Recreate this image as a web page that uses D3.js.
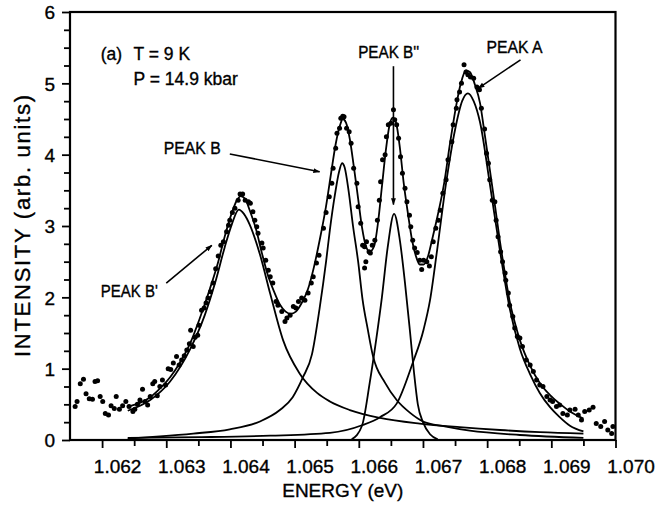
<!DOCTYPE html>
<html>
<head>
<meta charset="utf-8">
<script src="https://cdn.jsdelivr.net/npm/d3@7"></script>
<style>
  html, body { margin: 0; padding: 0; background: #fff; }
  #chart svg { display: block; }
  text { font-family: "Liberation Sans", Arial, sans-serif; fill: #000; stroke: #000; stroke-width: 0.35px; }
</style>
</head>
<body>
<div id="chart"></div>
<script>
// tick labels
const xTicks = [1.062, 1.063, 1.064, 1.065, 1.066, 1.067, 1.068, 1.069, 1.070];
const xMinor = [1.0625, 1.0635, 1.0645, 1.0655, 1.0665, 1.0675, 1.0685, 1.0695];
const yTicks = [0, 1, 2, 3, 4, 5, 6];
const yMinor = [0.25, 0.5, 0.75, 1.25, 1.5, 1.75, 2.25, 2.5, 2.75, 3.25, 3.5, 3.75,
                4.25, 4.5, 4.75, 5.25, 5.5, 5.75];

// measured points [energy eV, intensity]
const measured = [
  [1.06158, 0.47], [1.06161, 0.54], [1.06166, 0.79], [1.06171, 0.85], [1.06175, 0.65],
  [1.06180, 0.58], [1.06185, 0.57], [1.06189, 0.82], [1.06193, 0.83], [1.06197, 0.61],
  [1.06201, 0.54], [1.06205, 0.37], [1.06210, 0.35], [1.06214, 0.48], [1.06219, 0.44],
  [1.06222, 0.61], [1.06227, 0.43], [1.06232, 0.48], [1.06237, 0.54], [1.06242, 0.47],
  [1.06248, 0.40], [1.06251, 0.43], [1.06255, 0.50], [1.06259, 0.56], [1.06263, 0.71],
  [1.06267, 0.54], [1.06271, 0.49], [1.06275, 0.61], [1.06279, 0.79], [1.06282, 0.82],
  [1.06286, 0.62], [1.06290, 0.75], [1.06294, 0.84], [1.06299, 0.77], [1.06303, 1.00],
  [1.06307, 0.99], [1.06311, 1.08], [1.06316, 1.17], [1.06320, 1.05], [1.06324, 1.12],
  [1.06328, 1.18], [1.06332, 1.26], [1.06336, 1.35], [1.06338, 1.54], [1.06342, 1.31],
  [1.06345, 1.44], [1.06349, 1.47], [1.06351, 1.61], [1.06355, 1.82], [1.06359, 1.85],
  [1.06362, 1.92], [1.06365, 1.99], [1.06369, 2.08], [1.06373, 2.20], [1.06377, 2.40],
  [1.06381, 2.58], [1.06385, 2.73], [1.06389, 2.78], [1.06394, 2.92], [1.06397, 3.01],
  [1.06399, 3.08], [1.06403, 3.19], [1.06407, 3.25], [1.06412, 3.36], [1.06415, 3.45],
  [1.06419, 3.45], [1.06423, 3.36], [1.06428, 3.34], [1.06431, 3.32], [1.06435, 3.20],
  [1.06438, 3.08], [1.06441, 2.99], [1.06443, 2.90], [1.06449, 2.76], [1.06451, 2.69],
  [1.06455, 2.52], [1.06459, 2.38], [1.06462, 2.29], [1.06466, 2.20], [1.06471, 1.94],
  [1.06474, 1.89], [1.06480, 1.80], [1.06485, 1.66], [1.06488, 1.71], [1.06493, 1.75],
  [1.06498, 1.87], [1.06502, 1.85], [1.06506, 1.94], [1.06511, 1.99], [1.06516, 1.96],
  [1.06521, 2.06], [1.06526, 2.20], [1.06529, 2.29], [1.06534, 2.48], [1.06538, 2.59],
  [1.06545, 2.97], [1.06549, 3.19], [1.06554, 3.41], [1.06558, 3.60], [1.06560, 3.81],
  [1.06564, 4.09], [1.06566, 4.30], [1.06570, 4.37], [1.06572, 4.51], [1.06575, 4.54],
  [1.06577, 4.53], [1.06581, 4.37], [1.06585, 4.32], [1.06588, 4.16], [1.06592, 3.81],
  [1.06597, 3.60], [1.06599, 3.27], [1.06603, 3.04], [1.06606, 2.73], [1.06609, 2.71],
  [1.06612, 2.78], [1.06616, 2.64], [1.06618, 2.62], [1.06621, 2.73], [1.06611, 2.50],
  [1.06609, 2.41], [1.06625, 2.80], [1.06629, 3.08], [1.06632, 3.36], [1.06634, 3.62],
  [1.06637, 3.93], [1.06641, 4.00], [1.06643, 4.25], [1.06646, 4.42], [1.06650, 4.44],
  [1.06654, 4.63], [1.06656, 4.49], [1.06659, 4.42], [1.06662, 4.23], [1.06665, 3.97],
  [1.06668, 3.74], [1.06672, 3.53], [1.06675, 3.34], [1.06679, 3.15], [1.06681, 2.99],
  [1.06684, 2.80], [1.06687, 2.69], [1.06691, 2.63], [1.06695, 2.52], [1.06698, 2.39],
  [1.06701, 2.52], [1.06706, 2.50], [1.06710, 2.44], [1.06713, 2.57], [1.06716, 2.78],
  [1.06720, 2.97], [1.06724, 3.08], [1.06727, 3.22], [1.06731, 3.46], [1.06736, 3.65],
  [1.06739, 3.93], [1.06745, 4.18], [1.06747, 4.42], [1.06752, 4.65], [1.06753, 4.77],
  [1.06757, 4.88], [1.06760, 5.00], [1.06764, 5.26], [1.06767, 5.16], [1.06770, 5.12],
  [1.06774, 5.09], [1.06779, 5.07], [1.06784, 4.95], [1.06788, 4.91], [1.06791, 4.65],
  [1.06796, 4.36], [1.06799, 4.02], [1.06802, 3.88], [1.06804, 3.65], [1.06808, 3.36],
  [1.06812, 3.34], [1.06814, 3.08], [1.06817, 2.85], [1.06821, 2.64], [1.06824, 2.50],
  [1.06828, 2.34], [1.06829, 2.24], [1.06833, 2.06], [1.06835, 1.89], [1.06840, 1.73],
  [1.06843, 1.57], [1.06847, 1.45], [1.06851, 1.43], [1.06855, 1.31], [1.06861, 1.12],
  [1.06867, 1.05], [1.06872, 0.96], [1.06877, 0.84], [1.06882, 0.77], [1.06887, 0.75],
  [1.06893, 0.61], [1.06898, 0.56], [1.06902, 0.54], [1.06908, 0.47], [1.06913, 0.49],
  [1.06918, 0.37], [1.06925, 0.35], [1.06929, 0.42], [1.06937, 0.43], [1.06942, 0.35],
  [1.06947, 0.28], [1.06952, 0.40], [1.06959, 0.42], [1.06965, 0.46], [1.06970, 0.23],
  [1.06977, 0.19], [1.06983, 0.26], [1.06988, 0.14], [1.06994, 0.09], [1.06996, 0.19]
];

// fitted sum
const fitTotal = [
  [1.06240, 0.47], [1.06259, 0.52], [1.06275, 0.60], [1.06290, 0.72], [1.06306, 0.88],
  [1.06321, 1.08], [1.06337, 1.35], [1.06352, 1.70], [1.06368, 2.12], [1.06381, 2.50],
  [1.06391, 2.85], [1.06402, 3.18], [1.06410, 3.36], [1.06416, 3.42], [1.06423, 3.38],
  [1.06430, 3.22], [1.06440, 2.95], [1.06449, 2.62], [1.06458, 2.32], [1.06468, 2.08],
  [1.06477, 1.90], [1.06486, 1.80], [1.06494, 1.77], [1.06502, 1.80], [1.06511, 1.92],
  [1.06521, 2.12], [1.06530, 2.42], [1.06539, 2.80], [1.06549, 3.28], [1.06557, 3.75],
  [1.06564, 4.15], [1.06571, 4.42], [1.06575, 4.50], [1.06580, 4.45], [1.06586, 4.22],
  [1.06592, 3.85], [1.06599, 3.38], [1.06605, 2.98], [1.06611, 2.72], [1.06617, 2.64],
  [1.06624, 2.72], [1.06630, 3.05], [1.06636, 3.55], [1.06642, 4.05], [1.06648, 4.42],
  [1.06653, 4.52], [1.06658, 4.45], [1.06664, 4.10], [1.06670, 3.60], [1.06677, 3.15],
  [1.06683, 2.80], [1.06689, 2.58], [1.06695, 2.46], [1.06701, 2.46], [1.06708, 2.58],
  [1.06714, 2.80], [1.06723, 3.15], [1.06733, 3.60], [1.06742, 4.15], [1.06751, 4.65],
  [1.06759, 5.00], [1.06767, 5.18], [1.06773, 5.16], [1.06781, 4.98], [1.06789, 4.72],
  [1.06796, 4.30], [1.06804, 3.80], [1.06812, 3.30], [1.06820, 2.78], [1.06828, 2.32],
  [1.06835, 1.95], [1.06843, 1.65], [1.06851, 1.40], [1.06867, 1.04], [1.06882, 0.80],
  [1.06898, 0.63], [1.06913, 0.51], [1.06929, 0.40], [1.06950, 0.30]
];

// single peak components
const peakBprime = [
  [1.06240, 0.41], [1.06275, 0.56], [1.06306, 0.82], [1.06337, 1.27], [1.06360, 1.75],
  [1.06376, 2.20], [1.06391, 2.70], [1.06402, 3.02], [1.06413, 3.23], [1.06421, 3.17],
  [1.06430, 3.02], [1.06446, 2.60], [1.06462, 2.05], [1.06482, 1.40], [1.06508, 0.93],
  [1.06535, 0.66], [1.06555, 0.54], [1.06586, 0.42], [1.06633, 0.31], [1.06695, 0.23],
  [1.06757, 0.18], [1.06820, 0.14], [1.06882, 0.11], [1.06950, 0.09]
];
const peakB = [
  [1.06240, 0.02], [1.06290, 0.05], [1.06342, 0.09], [1.06399, 0.15], [1.06446, 0.26],
  [1.06477, 0.42], [1.06497, 0.60], [1.06513, 0.88], [1.06527, 1.20], [1.06539, 1.85],
  [1.06549, 2.50], [1.06555, 2.95], [1.06563, 3.45], [1.06569, 3.75], [1.06574, 3.88],
  [1.06578, 3.82], [1.06584, 3.50], [1.06591, 3.00], [1.06599, 2.50], [1.06606, 1.96],
  [1.06614, 1.55], [1.06622, 1.18], [1.06641, 0.80], [1.06659, 0.56], [1.06680, 0.38],
  [1.06700, 0.26], [1.06734, 0.19], [1.06773, 0.13], [1.06851, 0.07], [1.06950, 0.03]
];
const peakB2 = [
  [1.06589, 0.01], [1.06605, 0.20], [1.06617, 0.80], [1.06627, 1.40], [1.06636, 2.00],
  [1.06645, 2.70], [1.06655, 3.17], [1.06664, 2.80], [1.06672, 2.20], [1.06680, 1.50],
  [1.06686, 0.95], [1.06692, 0.50], [1.06700, 0.25], [1.06711, 0.08], [1.06723, 0.01]
];
const peakA = [
  [1.06240, 0.03], [1.06352, 0.04], [1.06462, 0.06], [1.06555, 0.10], [1.06606, 0.21],
  [1.06633, 0.32], [1.06659, 0.51], [1.06684, 1.08], [1.06701, 1.55], [1.06711, 1.96],
  [1.06722, 2.66], [1.06736, 3.60], [1.06750, 4.35], [1.06761, 4.75], [1.06770, 4.86],
  [1.06779, 4.75], [1.06789, 4.45], [1.06804, 3.60], [1.06820, 2.65], [1.06835, 1.85],
  [1.06851, 1.28], [1.06867, 0.92], [1.06882, 0.66], [1.06898, 0.46], [1.06913, 0.32],
  [1.06929, 0.20], [1.06950, 0.12]
];

// labels with arrows: text anchor point and arrow from -> to (data units)
const labels = [
  { text: "PEAK B'",  at: [1.06198, 2.00], from: [1.06300, 2.20], to: [1.06371, 2.73], len: 57 },
  { text: "PEAK B",   at: [1.06296, 4.01], from: [1.06399, 4.01], to: [1.06539, 3.76], len: 57 },
  { text: "PEAK B''", at: [1.06599, 5.35], from: [1.06654, 5.24], to: [1.06654, 3.30], len: 61 },
  { text: "PEAK A",   at: [1.06799, 5.42], from: [1.06852, 5.33], to: [1.06786, 4.93], len: 56 }
];

const w = 668, h = 505;
const x = d3.scaleLinear().domain([1.0615, 1.0700]).range([70, 615.5]);
const y = d3.scaleLinear().domain([0, 6]).range([440, 12]);

const svg = d3.select("#chart").append("svg")
  .attr("width", w).attr("height", h);

svg.append("defs").append("marker")
  .attr("id", "head")
  .attr("viewBox", "0 0 10 10")
  .attr("refX", 9).attr("refY", 5)
  .attr("markerWidth", 7).attr("markerHeight", 7)
  .attr("markerUnits", "userSpaceOnUse")
  .attr("orient", "auto")
  .append("path").attr("d", "M0,1.5 L10,5 L0,8.5 Z").attr("fill", "#000");

// component peaks and sum
const line = d3.line().x(d => x(d[0])).y(d => y(d[1])).curve(d3.curveMonotoneX);
[peakBprime, peakB, peakB2, peakA, fitTotal].forEach(s => {
  svg.append("path").datum(s)
    .attr("d", line)
    .attr("fill", "none")
    .attr("stroke", "#000")
    .attr("stroke-width", 1.8);
});

// data points
svg.append("g").selectAll("circle")
  .data(measured)
  .enter()
  .append("circle")
  .attr("cx", d => x(d[0]))
  .attr("cy", d => y(d[1]))
  .attr("r", 2.5)
  .attr("fill", "#000");

// axes
const xAxis = svg.append("g")
  .attr("transform", `translate(0,${y(0)})`)
  .call(d3.axisBottom(x).tickValues(xTicks).tickSize(8).tickFormat(d3.format(".3f")));
xAxis.selectAll("text")
  .attr("y", 33).attr("dy", 0).attr("dx", 15)
  .style("font-size", "19px");
svg.append("g")
  .attr("transform", `translate(0,${y(0)})`)
  .call(d3.axisBottom(x).tickValues(xMinor).tickSize(6).tickFormat(""));

const yAxis = svg.append("g")
  .attr("transform", `translate(${x(1.0615)},0)`)
  .call(d3.axisLeft(y).tickValues(yTicks).tickSize(8).tickFormat(d3.format("d")));
yAxis.selectAll("text")
  .attr("x", -15).attr("dy", "0.36em")
  .style("font-size", "19px");
svg.append("g")
  .attr("transform", `translate(${x(1.0615)},0)`)
  .call(d3.axisLeft(y).tickValues(yMinor).tickSize(6).tickFormat(""));

svg.selectAll(".domain").remove();
svg.selectAll(".tick line").attr("stroke", "#000").attr("stroke-width", 1.8);

// frame
svg.append("rect")
  .attr("x", x(1.0615)).attr("y", y(6))
  .attr("width", x(1.0700) - x(1.0615))
  .attr("height", y(0) - y(6))
  .attr("fill", "none")
  .attr("stroke", "#000")
  .attr("stroke-width", 2.2);

// axis titles
svg.append("text")
  .attr("x", (x(1.0615) + x(1.0700)) / 2)
  .attr("y", 497)
  .attr("text-anchor", "middle")
  .style("font-size", "19px")
  .text("ENERGY (eV)");

svg.append("text")
  .attr("transform", `translate(30,${(y(0) + y(6)) / 2}) rotate(-90)`)
  .attr("text-anchor", "middle")
  .attr("textLength", 262)
  .attr("lengthAdjust", "spacing")
  .style("font-size", "22px")
  .text("INTENSITY (arb. units)");

// condition labels
svg.append("text")
  .attr("x", x(1.06198)).attr("y", y(5.33))
  .style("font-size", "17.5px")
  .text("(a)");
svg.append("text")
  .attr("x", x(1.06249)).attr("y", y(5.33))
  .style("font-size", "17.5px")
  .text("T = 9 K");
svg.append("text")
  .attr("x", x(1.06249)).attr("y", y(4.98))
  .style("font-size", "17.5px")
  .text("P = 14.9 kbar");

// peak labels and arrows
labels.forEach(l => {
  svg.append("text")
    .attr("x", x(l.at[0])).attr("y", y(l.at[1]))
    .attr("textLength", l.len)
    .attr("lengthAdjust", "spacingAndGlyphs")
    .style("font-size", "16.5px")
    .text(l.text);
  svg.append("line")
    .attr("x1", x(l.from[0])).attr("y1", y(l.from[1]))
    .attr("x2", x(l.to[0])).attr("y2", y(l.to[1]))
    .attr("stroke", "#000")
    .attr("stroke-width", 1.6)
    .attr("marker-end", "url(#head)");
});
</script>
</body>
</html>
